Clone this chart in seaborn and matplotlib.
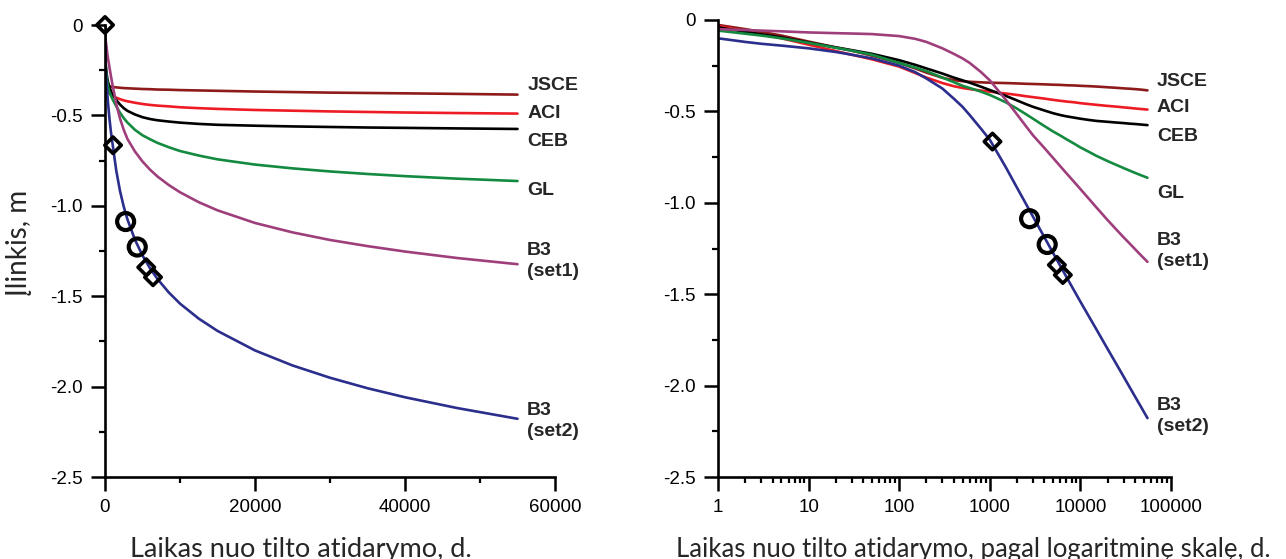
import numpy as np
import pandas as pd
import matplotlib
matplotlib.use("Agg")
import matplotlib.pyplot as plt
import matplotlib.ticker as mticker
import seaborn as sns

# ---------------- data ----------------
t_days = [0, 1, 2, 3, 5, 10, 20, 30, 50, 100, 150, 200, 300, 400, 500, 600, 800,
          1000, 1500, 2000, 2500, 3000, 4000, 5000, 6000, 7000, 8500, 10000, 12500,
          15000, 20000, 25000, 30000, 35000, 40000, 47000, 55000]

jsce = [0, -0.027, -0.05, -0.065, -0.085, -0.118, -0.15, -0.168, -0.195, -0.235,
        -0.265, -0.288, -0.316, -0.329, -0.335, -0.338, -0.341, -0.343, -0.345,
        -0.347, -0.349, -0.35, -0.352, -0.354, -0.355, -0.357, -0.358, -0.36, -0.362,
        -0.364, -0.368, -0.371, -0.374, -0.376, -0.378, -0.381, -0.385]
aci = [0, -0.033, -0.06, -0.078, -0.1, -0.135, -0.17, -0.19, -0.215, -0.255,
       -0.29, -0.315, -0.345, -0.362, -0.372, -0.378, -0.386, -0.392, -0.402,
       -0.41, -0.417, -0.422, -0.43, -0.437, -0.442, -0.446, -0.45, -0.455, -0.46,
       -0.464, -0.47, -0.474, -0.478, -0.481, -0.484, -0.487, -0.49]
ceb = [0, -0.04, -0.065, -0.078, -0.095, -0.123, -0.15, -0.165, -0.185, -0.22,
       -0.245, -0.265, -0.293, -0.315, -0.33, -0.343, -0.365, -0.383, -0.415,
       -0.44, -0.46, -0.475, -0.495, -0.51, -0.52, -0.527, -0.534, -0.54, -0.547,
       -0.552, -0.557, -0.561, -0.564, -0.567, -0.569, -0.572, -0.575]
gl = [0, -0.058, -0.075, -0.085, -0.1, -0.125, -0.152, -0.168, -0.19, -0.235,
      -0.26, -0.28, -0.315, -0.34, -0.36, -0.372, -0.392, -0.41, -0.45, -0.485,
      -0.515, -0.54, -0.58, -0.61, -0.632, -0.652, -0.676, -0.697, -0.722, -0.743,
      -0.772, -0.793, -0.81, -0.824, -0.836, -0.85, -0.863]
b3_set1 = [0, -0.05, -0.055, -0.058, -0.062, -0.068, -0.072, -0.074, -0.077, -0.088,
           -0.103, -0.12, -0.155, -0.185, -0.21, -0.235, -0.285, -0.33, -0.436, -0.517,
           -0.58, -0.631, -0.70, -0.755, -0.80, -0.838, -0.885, -0.925, -0.98, -1.025,
           -1.095, -1.147, -1.189, -1.223, -1.253, -1.289, -1.323]
b3_set2 = [0, -0.10, -0.12, -0.13, -0.14, -0.155, -0.175, -0.19, -0.21, -0.25,
           -0.285, -0.32, -0.375, -0.43, -0.475, -0.52, -0.595, -0.655, -0.805, -0.918,
           -1.005, -1.076, -1.188, -1.275, -1.345, -1.405, -1.479, -1.541, -1.624,
           -1.692, -1.80, -1.883, -1.951, -2.009, -2.059, -2.119, -2.178]

series_names = ["JSCE", "ACI", "CEB", "GL", "B3\n(set1)", "B3\n(set2)"]
series_values = [jsce, aci, ceb, gl, b3_set1, b3_set2]
series_colors = ["#8E1B1B", "#ED1C24", "#000000", "#138A3F", "#9E3F7C", "#2B2E8C"]

# measured points
diamond_t = [0, 1070, 5500, 6400]
diamond_v = [0, -0.665, -1.34, -1.395]
circle_t = [2750, 4300]
circle_v = [-1.087, -1.228]

# label anchors (text positions)
label_y_lin = [-0.332, -0.492, -0.642, -0.918, -1.305, -2.19]
label_y_log = [-0.339, -0.48, -0.635, -0.95, -1.264, -2.166]

y_ticks = [0, -0.5, -1.0, -1.5, -2.0, -2.5]
y_ticklabels = ["0", "-0.5", "-1.0", "-1.5", "-2.0", "-2.5"]
x_lin_ticks = [0, 20000, 40000, 60000]
x_log_ticks = [1, 10, 100, 1000, 10000, 100000]

# ---------------- plotting ----------------
sns.set_theme(style="ticks")
plt.rcParams["font.family"] = ["Liberation Sans", "DejaVu Sans"]
plt.rcParams["axes.unicode_minus"] = False

W, H = 1286, 559
fig = plt.figure(figsize=(W / 100, H / 100), dpi=100)
ax1 = fig.add_axes([105 / W, (H - 477) / H, 450 / W, 452 / H])
ax2 = fig.add_axes([718 / W, (H - 477) / H, 453 / W, 457 / H])

df = pd.DataFrame({"t": t_days})
for name, vals in zip(series_names, series_values):
    df[name] = vals
df_log = df[df["t"] > 0]

for ax, d in ((ax1, df), (ax2, df_log)):
    for name, col in zip(series_names, series_colors):
        sns.lineplot(data=d, x="t", y=name, ax=ax, color=col, linewidth=1.9,
                     estimator=None, sort=False, legend=False)

dm = pd.DataFrame({"t": diamond_t, "v": diamond_v})
cm = pd.DataFrame({"t": circle_t, "v": circle_v})
for ax, d in ((ax1, dm), (ax2, dm[dm["t"] > 0])):
    sns.scatterplot(data=d, x="t", y="v", ax=ax, marker="D", s=70,
                    facecolor="none", edgecolor="black", linewidth=2.6,
                    clip_on=False, zorder=5, legend=False)
    sns.scatterplot(data=cm, x="t", y="v", ax=ax, marker="o", s=150,
                    facecolor="none", edgecolor="black", linewidth=3.0,
                    clip_on=False, zorder=5, legend=False)

ax2.set_xscale("log")
ax1.set_xlim(0, 60000)
ax2.set_xlim(1, 100000)
for ax in (ax1, ax2):
    ax.set_ylim(-2.5, 0)
    ax.set_yticks(y_ticks)
    ax.set_yticklabels(y_ticklabels)
    ax.yaxis.set_minor_locator(mticker.MultipleLocator(0.25))
    ax.set_xlabel("")
    ax.set_ylabel("")
    sns.despine(ax=ax)
    for s in ("left", "bottom"):
        ax.spines[s].set_linewidth(1.9)
        ax.spines[s].set_color("black")
    ax.tick_params(which="major", direction="out", length=10, width=1.8,
                   labelsize=13.5, pad=6, colors="black")
    ax.tick_params(which="minor", direction="out", length=4.5, width=1.6,
                   colors="black")

ax1.set_xticks(x_lin_ticks)
ax1.set_xticklabels([str(v) for v in x_lin_ticks])
ax1.xaxis.set_minor_locator(mticker.MultipleLocator(10000))
ax2.set_xticks(x_log_ticks)
ax2.set_xticklabels([str(v) for v in x_log_ticks])
ax2.xaxis.set_minor_locator(mticker.LogLocator(base=10, subs=np.arange(2, 10), numticks=20))
ax2.xaxis.set_minor_formatter(mticker.NullFormatter())

for name, ly in zip(series_names, label_y_lin):
    ax1.text(56300, ly, name, ha="left", va="center", fontsize=14,
             fontweight="bold", linespacing=1.25)
for name, ly in zip(series_names, label_y_log):
    ax2.text(70000, ly, name, ha="left", va="center", fontsize=14,
             fontweight="bold", linespacing=1.25)

fig.text(130 / W, 1 - 549 / H, "Laikas nuo tilto atidarymo, d.", ha="left", va="center",
         fontsize=19.5, family=["Lato", "DejaVu Sans"])
fig.text(676 / W, 1 - 549 / H, "Laikas nuo tilto atidarymo, pagal logaritminę skalę, d.",
         ha="left", va="center", fontsize=18.5, family=["Lato", "DejaVu Sans"])
fig.text(19 / W, 1 - 243 / H, "Įlinkis, m", rotation=90, ha="center", va="center",
         fontsize=20, family=["Lato", "DejaVu Sans"])

fig.savefig("out.png", dpi=100, facecolor="white")
